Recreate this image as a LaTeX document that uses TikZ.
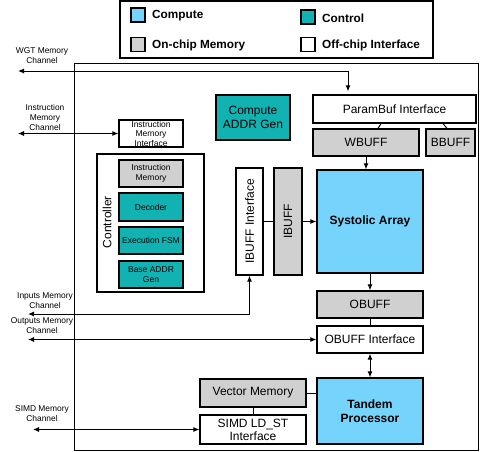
\documentclass[tikz,border=0pt]{standalone}
\usepackage{fontspec}
\setmainfont{Liberation Sans}
\usetikzlibrary{arrows.meta}
\definecolor{computeblue}{RGB}{118,212,252}
\definecolor{controlteal}{RGB}{18,178,178}
\definecolor{memgray}{RGB}{208,208,208}
\begin{document}
\begin{tikzpicture}[x=1pt,y=-1pt,
  blk/.style={draw,line width=1.2pt,inner sep=0pt,align=center,font=\fontsize{12}{14}\selectfont},
  cmpbox/.style={blk,fill=computeblue},
  ctlbox/.style={blk,fill=controlteal},
  membox/.style={blk,fill=memgray},
  ifbox/.style={blk,fill=white},
  smalltxt/.style={font=\fontsize{8.5}{9.5}\selectfont},
  chan/.style={align=center,inner sep=0pt,font=\fontsize{8.4}{10}\selectfont},
  swatch/.style={draw,line width=1.2pt,minimum size=14pt,inner sep=0pt},
  keytxt/.style={anchor=west,inner sep=0pt,font=\fontsize{11.8}{14}\selectfont\bfseries},
  wire/.style={line width=1pt},
  arr/.style={wire,-{Latex[length=6pt,width=5pt]}},
  biarr/.style={wire,{Latex[length=6pt,width=5pt]}-{Latex[length=6pt,width=5pt]}}
]
\useasboundingbox (0,0) rectangle (480,451);

% legend
\draw[line width=1.2pt] (120,1) rectangle (433,58);
\node[swatch,fill=computeblue] (kcmp) at (138,15) {};
\node[keytxt] (tcmp) at (152,15.5) {Compute};
\node[swatch,fill=controlteal] (kctl) at (308,17) {};
\node[keytxt] (tctl) at (322,18.5) {Control};
\node[swatch,fill=memgray] (kmem) at (138,44.5) {};
\node[keytxt] (tmem) at (152,45.5) {On-chip Memory};
\node[swatch,fill=white] (kif) at (308,44.5) {};
\node[keytxt] (tif) at (322,45.5) {Off-chip Interface};

% chip
\draw[line width=1pt] (74,63) rectangle (478,450);

\node[ifbox,minimum width=163pt,minimum height=28pt] (pbuf) at (394.5,109) {ParamBuf Interface};
\node[membox,minimum width=106pt,minimum height=27pt] (wbuff) at (366,142.5) {WBUFF};
\node[membox,minimum width=49pt,minimum height=27pt] (bbuff) at (450.5,142.5) {BBUFF};
\node[ctlbox,minimum width=74pt,minimum height=45pt] (cag) at (253,117.5) {Compute\\ADDR Gen};
\node[ifbox,smalltxt,minimum width=64pt,minimum height=27pt] (imi) at (151,133.5) {Instruction\\Memory\\Interface};

% controller
\node[blk,minimum width=107pt,minimum height=138pt] (ctrl) at (150.5,223) {};
\node[rotate=90,inner sep=0pt,font=\fontsize{12}{14}\selectfont] (ctrllbl) at (107,222) {Controller};
\node[membox,smalltxt,minimum width=64pt,minimum height=27pt] (imem) at (151,173.5) {Instruction\\Memory};
\node[ctlbox,smalltxt,minimum width=64pt,minimum height=28pt] (dec) at (151,207) {Decoder};
\node[ctlbox,smalltxt,minimum width=64pt,minimum height=27pt] (fsm) at (151,240.5) {Execution FSM};
\node[ctlbox,smalltxt,minimum width=64pt,minimum height=27pt] (bag) at (151,274.5) {Base ADDR\\Gen};

\node[ifbox,rotate=90,minimum width=107pt,minimum height=27pt] (ibuffi) at (249.5,221.5) {IBUFF Interface};
\node[membox,rotate=90,minimum width=107pt,minimum height=28pt] (ibuff) at (288,221.5) {IBUFF};
\node[cmpbox,font=\fontsize{12}{14}\selectfont\bfseries,minimum width=106pt,minimum height=103pt] (sys) at (370,221.5) {Systolic Array};
\node[membox,minimum width=106pt,minimum height=27pt] (obuff) at (370,304.5) {OBUFF};
\node[ifbox,minimum width=106pt,minimum height=27pt] (obuffi) at (370,339.5) {OBUFF Interface};
\node[cmpbox,font=\fontsize{12}{14}\selectfont\bfseries,minimum width=106pt,minimum height=66pt] (tandem) at (370,411) {Tandem\\Processor};
\node[membox,minimum width=106pt,minimum height=28pt] (vmem) at (253,393) {Vector Memory};
\node[ifbox,font=\fontsize{12}{13}\selectfont,minimum width=106pt,minimum height=29pt] (simd) at (253,429.5) {SIMD LD\_ST\\Interface};

% memory channels
\node[chan] (wgtlbl) at (42,56) {WGT Memory\\Channel};
\node[chan] (instlbl) at (45,117) {Instruction\\Memory\\Channel};
\node[chan] (inlbl) at (45,301) {Inputs Memory\\Channel};
\node[chan] (outlbl) at (42,326) {Outputs Memory\\Channel};
\node[chan] (simdlbl) at (42,414) {SIMD Memory\\Channel};
\coordinate (wgt) at (18,71);
\coordinate (inst) at (18,133.5);
\coordinate (inch) at (28,314);
\coordinate (outch) at (28,339.5);
\coordinate (simdch) at (33,429.5);

\draw[biarr,shorten >=3pt] (wgt) -| ([xshift=-46.5pt]pbuf.north);
\draw[biarr] (inst) -- (imi);
\draw[biarr] (inch) -| (ibuffi);
\draw[biarr] (outch) -- (obuffi);
\draw[biarr] (simdch) -- (simd);

% links
\draw[wire] ([xshift=-13.5pt]pbuf.south) -- ([xshift=12pt]wbuff.north);
\draw[wire] ([xshift=48.5pt]pbuf.south) -- ([xshift=-3.5pt]bbuff.north);
\draw[arr] (wbuff) -- (wbuff |- sys.north);
\draw[wire] (ibuffi) -- (ibuff);
\draw[arr] (ibuff) -- (sys);
\draw[arr] (sys) -- (obuff);
\draw[wire] (obuff) -- (obuffi);
\draw[biarr] (obuffi) -- (tandem);
\draw[wire] (vmem) -- (vmem -| tandem.west);
\draw[wire] (vmem) -- (simd);
\end{tikzpicture}
\end{document}
